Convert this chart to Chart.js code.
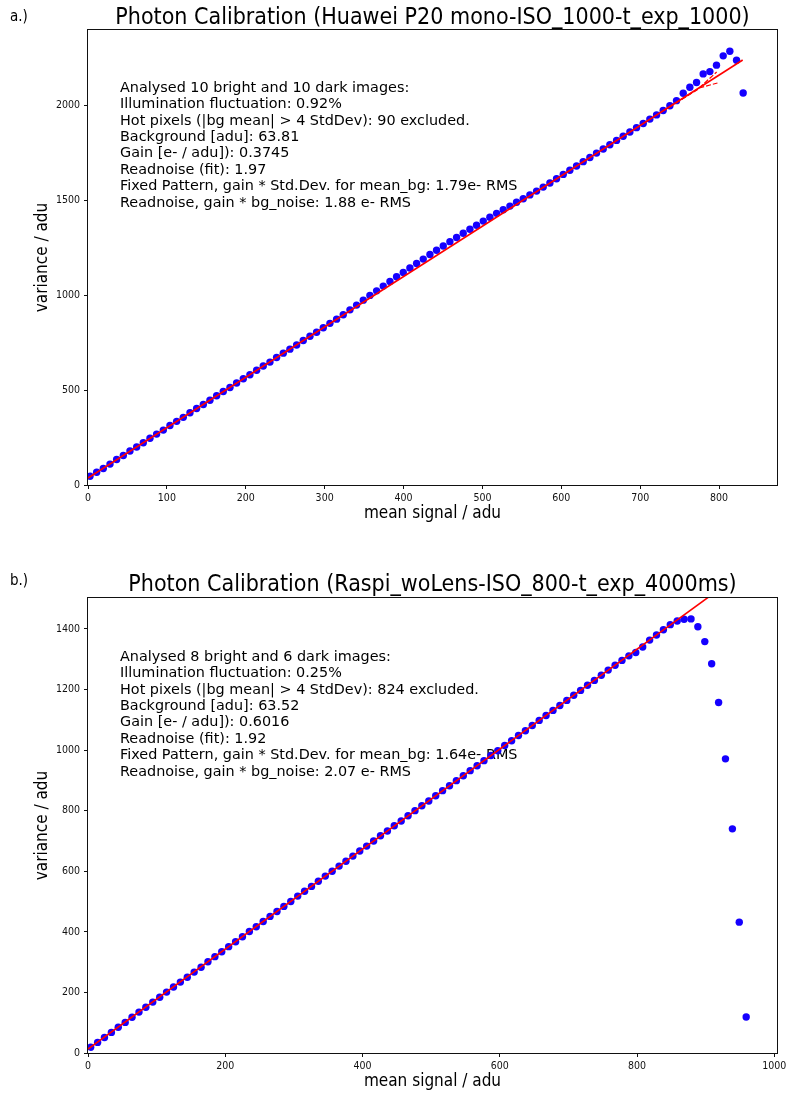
<!DOCTYPE html>
<html>
<head>
<meta charset="utf-8">
<title>Photon Calibration</title>
<script src="https://cdn.jsdelivr.net/npm/chart.js@4.4.1/dist/chart.umd.min.js"></script>
<style>
  html, body { margin: 0; padding: 0; background: #fff; }
  #wrap { position: relative; width: 786px; height: 1093px; }
  canvas { position: absolute; left: 0; }
  #chartA { top: 0; }
  #chartB { top: 526px; }
</style>
</head>
<body>
<div id="wrap">
  <canvas id="chartA" width="786" height="526"></canvas>
  <canvas id="chartB" width="786" height="567"></canvas>
</div>
<script>
// ---- panel a.) Huawei P20 mono: mean signal vs variance (read off the figure) ----
const meanA = [
  2.5, 11.0, 19.4, 27.9, 36.3, 44.8, 53.2, 61.7, 70.1, 78.6,
  87.0, 95.5, 103.9, 112.4, 120.8, 129.3, 137.7, 146.2, 154.6, 163.1,
  171.5, 180.0, 188.4, 196.9, 205.3, 213.8, 222.2, 230.7, 239.1, 247.6,
  256.0, 264.5, 272.9, 281.4, 289.8, 298.3, 306.7, 315.2, 323.6, 332.1,
  340.5, 349.0, 357.4, 365.9, 374.3, 382.8, 391.2, 399.7, 408.1, 416.6,
  425.0, 433.5, 441.9, 450.4, 458.8, 467.3, 475.7, 484.2, 492.6, 501.1,
  509.5, 518.0, 526.4, 534.9, 543.3, 551.8, 560.2, 568.7, 577.1, 585.6,
  594.0, 602.5, 610.9, 619.4, 627.8, 636.3, 644.7, 653.2, 661.6, 670.1,
  678.5, 687.0, 695.4, 703.9, 712.3, 720.8, 729.2, 737.7, 746.1, 754.6,
  763.0, 771.5, 779.9, 788.4, 796.8, 805.3, 813.7, 822.2, 830.6
];
const varA = [
  46, 67, 87, 110, 134, 155, 179, 200, 222, 246,
  268, 289, 313, 335, 356, 380, 403, 424, 446, 470,
  492, 513, 537, 559, 580, 604, 626, 647, 671, 694,
  715, 737, 761, 783, 804, 828, 851, 873, 896, 922,
  947, 973, 998, 1022, 1047, 1071, 1096, 1119, 1142, 1166,
  1189, 1213, 1236, 1258, 1281, 1303, 1325, 1346, 1367, 1389,
  1409, 1430, 1449, 1468, 1488, 1507, 1527, 1547, 1568, 1590,
  1612, 1635, 1657, 1679, 1702, 1724, 1747, 1769, 1791, 1814,
  1836, 1858, 1881, 1903, 1926, 1948, 1971, 1996, 2023, 2062,
  2094, 2119, 2164, 2176, 2210, 2259, 2283, 2236, 2063
];
const fitAX = [0, 830];
const fitAY = [37, 2237];
const dashHiAX = [730, 772, 797];
const dashHiAY = [1972, 2079, 2174];
const dashLoAX = [730, 775, 798];
const dashLoAY = [1972, 2090, 2116];
const xTicksA = [0, 100, 200, 300, 400, 500, 600, 700, 800];
const yTicksA = [0, 500, 1000, 1500, 2000];
const titleA = 'Photon Calibration (Huawei P20 mono-ISO_1000-t_exp_1000)';
const notesA = [
  'Analysed 10 bright and 10 dark images:',
  'Illumination fluctuation: 0.92%',
  'Hot pixels (|bg mean| > 4 StdDev): 90 excluded.',
  'Background [adu]: 63.81',
  'Gain [e- / adu]): 0.3745',
  'Readnoise (fit): 1.97',
  'Fixed Pattern, gain * Std.Dev. for mean_bg: 1.79e- RMS',
  'Readnoise, gain * bg_noise: 1.88 e- RMS'
];

// ---- panel b.) Raspi without lens ----
const meanB = [
  3.9, 14.0, 24.0, 34.1, 44.1, 54.2, 64.2, 74.3, 84.3, 94.4,
  104.5, 114.5, 124.6, 134.6, 144.7, 154.7, 164.8, 174.8, 184.9, 194.9,
  205.0, 215.1, 225.1, 235.2, 245.2, 255.3, 265.3, 275.4, 285.4, 295.5,
  305.6, 315.6, 325.7, 335.7, 345.8, 355.8, 365.9, 375.9, 386.0, 396.0,
  406.1, 416.2, 426.2, 436.3, 446.3, 456.4, 466.4, 476.5, 486.5, 496.6,
  506.7, 516.7, 526.8, 536.8, 546.9, 556.9, 567.0, 577.0, 587.1, 597.1,
  607.2, 617.3, 627.3, 637.4, 647.4, 657.5, 667.5, 677.6, 687.6, 697.7,
  707.8, 717.8, 727.9, 737.9, 748.0, 758.0, 768.1, 778.1, 788.2, 798.2,
  808.3, 818.4, 828.4, 838.5, 848.5, 858.6, 868.6, 878.7, 888.7, 898.8,
  908.8, 918.9, 928.9, 939.0, 949.0, 959.1
];
const varB = [
  19, 35, 51, 68, 85, 101, 118, 135, 151, 168,
  184, 201, 218, 234, 250, 267, 283, 301, 318, 334,
  351, 367, 384, 401, 417, 434, 451, 467, 484, 500,
  518, 534, 550, 567, 584, 600, 617, 633, 650, 667,
  683, 700, 717, 733, 750, 766, 783, 800, 816, 832,
  849, 866, 882, 899, 915, 932, 948, 965, 982, 998,
  1015, 1031, 1048, 1064, 1081, 1098, 1114, 1131, 1147, 1164,
  1181, 1197, 1214, 1230, 1247, 1264, 1280, 1296, 1311, 1322,
  1340, 1363, 1380, 1397, 1414, 1426, 1432, 1433, 1407, 1358,
  1285, 1157, 971, 740, 432, 119
];
const fitBX = [0, 1000];
const fitBY = [13, 1663];
const xTicksB = [0, 200, 400, 600, 800, 1000];
const yTicksB = [0, 200, 400, 600, 800, 1000, 1200, 1400];
const titleB = 'Photon Calibration (Raspi_woLens-ISO_800-t_exp_4000ms)';
const notesB = [
  'Analysed 8 bright and 6 dark images:',
  'Illumination fluctuation: 0.25%',
  'Hot pixels (|bg mean| > 4 StdDev): 824 excluded.',
  'Background [adu]: 63.52',
  'Gain [e- / adu]): 0.6016',
  'Readnoise (fit): 1.92',
  'Fixed Pattern, gain * Std.Dev. for mean_bg: 1.64e- RMS',
  'Readnoise, gain * bg_noise: 2.07 e- RMS'
];

const FONT_C = "'DejaVu Sans Condensed', 'DejaVu Sans', sans-serif";
const FONT_N = "'DejaVu Sans', sans-serif";

function pairs(xs, ys) {
  return xs.map((x, i) => ({ x: x, y: ys[i] }));
}

// black box around the plot area, like matplotlib spines
const framePlugin = {
  id: 'frame',
  afterDraw(chart) {
    const { ctx, chartArea: a } = chart;
    ctx.save();
    ctx.strokeStyle = '#111';
    ctx.lineWidth = 1;
    ctx.strokeRect(Math.round(a.left) - 0.5, Math.round(a.top) - 0.5,
      Math.round(a.right - a.left) + 1, Math.round(a.bottom - a.top) + 1);
    ctx.restore();
  }
};

// panel letter, title and the text block inside the plot
const textPlugin = {
  id: 'panelText',
  beforeDatasetsDraw(chart, args, opts) {
    const { ctx, chartArea: a } = chart;
    ctx.save();
    ctx.fillStyle = '#000';
    ctx.textAlign = 'left';
    ctx.textBaseline = 'alphabetic';
    ctx.font = '14.4px ' + FONT_N;
    opts.lines.forEach((t, i) => {
      ctx.fillText(t, a.left + 32, a.top + opts.noteTop + i * 16.4);
    });
    ctx.restore();
  },
  afterDraw(chart, args, opts) {
    const { ctx, chartArea: a } = chart;
    ctx.save();
    ctx.fillStyle = '#000';
    ctx.textBaseline = 'alphabetic';
    ctx.font = '15px ' + FONT_C;
    ctx.textAlign = 'left';
    ctx.fillText(opts.letter, 10, opts.letterY);
    ctx.font = '23px ' + FONT_C;
    ctx.textAlign = 'center';
    ctx.fillText(opts.title, (a.left + a.right) / 2, opts.titleY);
    ctx.restore();
  }
};

function makeChart(id, cfg) {
  const tickFont = { family: FONT_C, size: 10.5 };
  const axisFont = { family: FONT_C, size: 17 };
  return new Chart(document.getElementById(id), {
    type: 'scatter',
    data: {
      datasets: cfg.datasets
    },
    options: {
      responsive: false,
      animation: false,
      layout: { padding: { left: 0, right: 9, top: cfg.top, bottom: 0 } },
      plugins: {
        legend: { display: false },
        tooltip: { enabled: false },
        panelText: {
          letter: cfg.letter, letterY: cfg.letterY,
          title: cfg.title, titleY: cfg.titleY,
          lines: cfg.notes, noteTop: cfg.noteTop
        }
      },
      scales: {
        x: {
          type: 'linear',
          min: 0,
          max: cfg.xMax,
          grid: { drawOnChartArea: false, drawTicks: true, tickLength: 4, tickColor: '#111' },
          border: { display: false },
          ticks: {
            color: '#111', font: tickFont, padding: 3, maxRotation: 0, autoSkip: false, includeBounds: false,
            callback: v => String(v)
          },
          afterBuildTicks: s => { s.ticks = cfg.xTicks.map(v => ({ value: v })); },
          afterFit: s => { s.height = cfg.xAxisH; s.paddingLeft = 0; s.paddingRight = 0; },
          title: { display: true, text: 'mean signal / adu', color: '#000', font: axisFont, padding: { top: 0, bottom: cfg.xTitlePad } }
        },
        y: {
          type: 'linear',
          min: 0,
          max: cfg.yMax,
          grid: { drawOnChartArea: false, drawTicks: true, tickLength: 4, tickColor: '#111' },
          border: { display: false },
          ticks: {
            color: '#111', font: tickFont, padding: 4, autoSkip: false, includeBounds: false,
            callback: v => String(v)
          },
          afterBuildTicks: s => { s.ticks = cfg.yTicks.map(v => ({ value: v })); },
          afterFit: s => { s.width = 88; s.paddingTop = 0; s.paddingBottom = 0; },
          title: { display: true, text: 'variance / adu', color: '#000', font: axisFont, padding: { top: 32, bottom: 0 } }
        }
      }
    },
    plugins: [textPlugin, framePlugin]
  });
}

const pointStyle = { showLine: false, pointRadius: 3.7, pointBackgroundColor: '#1500ff', pointBorderWidth: 0, order: 2 };
const fitStyle = { showLine: true, pointRadius: 0, borderColor: '#ff0000', borderWidth: 1.6, order: 1 };

makeChart('chartA', {
  top: 30, xAxisH: 41, xTitlePad: 2,
  xMax: 873.5, yMax: 2395,
  xTicks: xTicksA, yTicks: yTicksA,
  letter: 'a.)', letterY: 21,
  title: titleA, titleY: 24,
  notes: notesA, noteTop: 61.7,
  datasets: [
    Object.assign({ label: 'fit', data: pairs(fitAX, fitAY) }, fitStyle),
    Object.assign({ label: 'fit upper', data: pairs(dashHiAX, dashHiAY), borderDash: [5, 2] }, fitStyle, { borderWidth: 1.2 }),
    Object.assign({ label: 'fit lower', data: pairs(dashLoAX, dashLoAY), borderDash: [5, 2] }, fitStyle, { borderWidth: 1.2 }),
    Object.assign({ label: 'variance', data: pairs(meanA, varA) }, pointStyle)
  ]
});

makeChart('chartB', {
  top: 72, xAxisH: 40, xTitlePad: 1,
  xMax: 1004, yMax: 1502,
  xTicks: xTicksB, yTicks: yTicksB,
  letter: 'b.)', letterY: 59,
  title: titleB, titleY: 65,
  notes: notesB, noteTop: 62.7,
  datasets: [
    Object.assign({ label: 'fit', data: pairs(fitBX, fitBY) }, fitStyle),
    Object.assign({ label: 'variance', data: pairs(meanB, varB) }, pointStyle)
  ]
});
</script>
</body>
</html>
